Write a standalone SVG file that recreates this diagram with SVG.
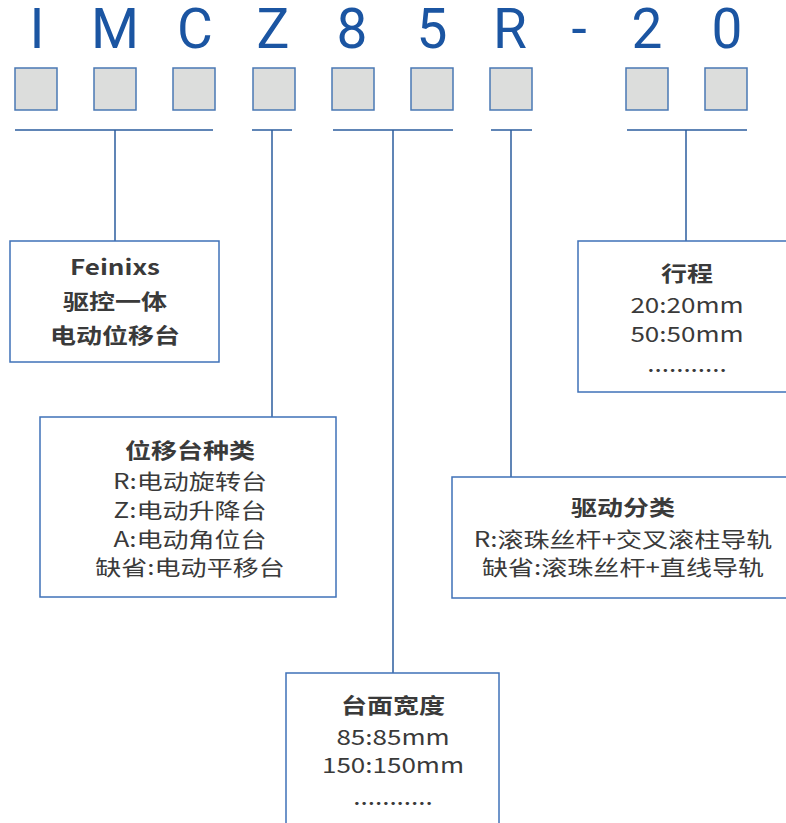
<svg xmlns="http://www.w3.org/2000/svg" width="786" height="823" viewBox="0 0 786 823">
<style>
.code{font-family:Roboto,"Liberation Sans",sans-serif;font-size:55px;fill:#1b55a2;text-anchor:middle}
.sq{fill:#dcdddc;stroke:#4a78b4;stroke-width:1.5}
.box{fill:#ffffff;stroke:#3f72b8;stroke-width:1.5}
.ln{stroke:#2c5e9f;stroke-width:1.5;fill:none}
.t{font-family:"Noto Sans CJK SC","Noto Sans",sans-serif;font-size:21px;fill:#3a3a3a;text-anchor:middle}
.b{font-weight:bold}
</style>
<rect width="786" height="823" fill="#ffffff"/>
<g id="code">
<text class="code" x="37" y="48">I</text>
<text class="code" x="115" y="48">M</text>
<text class="code" x="195" y="48">C</text>
<text class="code" x="273" y="48">Z</text>
<text class="code" x="352" y="48">8</text>
<text class="code" x="432" y="48">5</text>
<text class="code" x="510" y="48">R</text>
<text class="code" x="579" y="48">-</text>
<text class="code" x="647" y="48">2</text>
<text class="code" x="727" y="48">0</text>
</g>
<g id="squares">
<rect class="sq" x="15" y="68" width="42" height="42"/>
<rect class="sq" x="94" y="68" width="42" height="42"/>
<rect class="sq" x="173" y="68" width="42" height="42"/>
<rect class="sq" x="253" y="68" width="42" height="42"/>
<rect class="sq" x="332" y="68" width="42" height="42"/>
<rect class="sq" x="411" y="68" width="42" height="42"/>
<rect class="sq" x="490" y="68" width="42" height="42"/>
<rect class="sq" x="626" y="68" width="42" height="42"/>
<rect class="sq" x="705" y="68" width="42" height="42"/>
</g>
<g id="connectors">
<path class="ln" d="M15 130H213M115 130V241"/>
<path class="ln" d="M252 130H292M272 130V417"/>
<path class="ln" d="M333 130H453M393 130V673"/>
<path class="ln" d="M491 130H532M511 130V477"/>
<path class="ln" d="M627 130H747M686 130V241"/>
</g>
<g id="node-brand">
<rect class="box" x="10" y="241" width="209" height="121"/>
<g transform="translate(115,0) scale(1.24,1)">
<text class="t b" x="0" y="275">Feinixs</text>
<text class="t b" x="0" y="309">驱控一体</text>
<text class="t b" x="0" y="343">电动位移台</text>
</g>
</g>
<g id="node-stroke">
<rect class="box" x="578" y="241" width="215" height="151"/>
<g transform="translate(687,0) scale(1.24,1)">
<text class="t b" x="0" y="281">行程</text>
<text class="t" x="0" y="313">20:20mm</text>
<text class="t" x="0" y="342">50:50mm</text>
<text class="t" x="0" y="372">...........</text>
</g>
</g>
<g id="node-type">
<rect class="box" x="40" y="417" width="296" height="180"/>
<g transform="translate(190,0) scale(1.24,1)">
<text class="t b" x="0" y="458">位移台种类</text>
<text class="t" x="0" y="489">R:电动旋转台</text>
<text class="t" x="0" y="518">Z:电动升降台</text>
<text class="t" x="0" y="547">A:电动角位台</text>
<text class="t" x="0" y="575">缺省:电动平移台</text>
</g>
</g>
<g id="node-drive">
<rect class="box" x="452" y="477" width="345" height="121"/>
<g transform="translate(623,0) scale(1.24,1)">
<text class="t b" x="0" y="515">驱动分类</text>
<text class="t" x="0" y="547">R:滚珠丝杆+交叉滚柱导轨</text>
<text class="t" x="0" y="575">缺省:滚珠丝杆+直线导轨</text>
</g>
</g>
<g id="node-width">
<rect class="box" x="286" y="673" width="213" height="160"/>
<g transform="translate(393,0) scale(1.24,1)">
<text class="t b" x="0" y="713">台面宽度</text>
<text class="t" x="0" y="745">85:85mm</text>
<text class="t" x="0" y="773">150:150mm</text>
<text class="t" x="0" y="805">...........</text>
</g>
</g>
</svg>
